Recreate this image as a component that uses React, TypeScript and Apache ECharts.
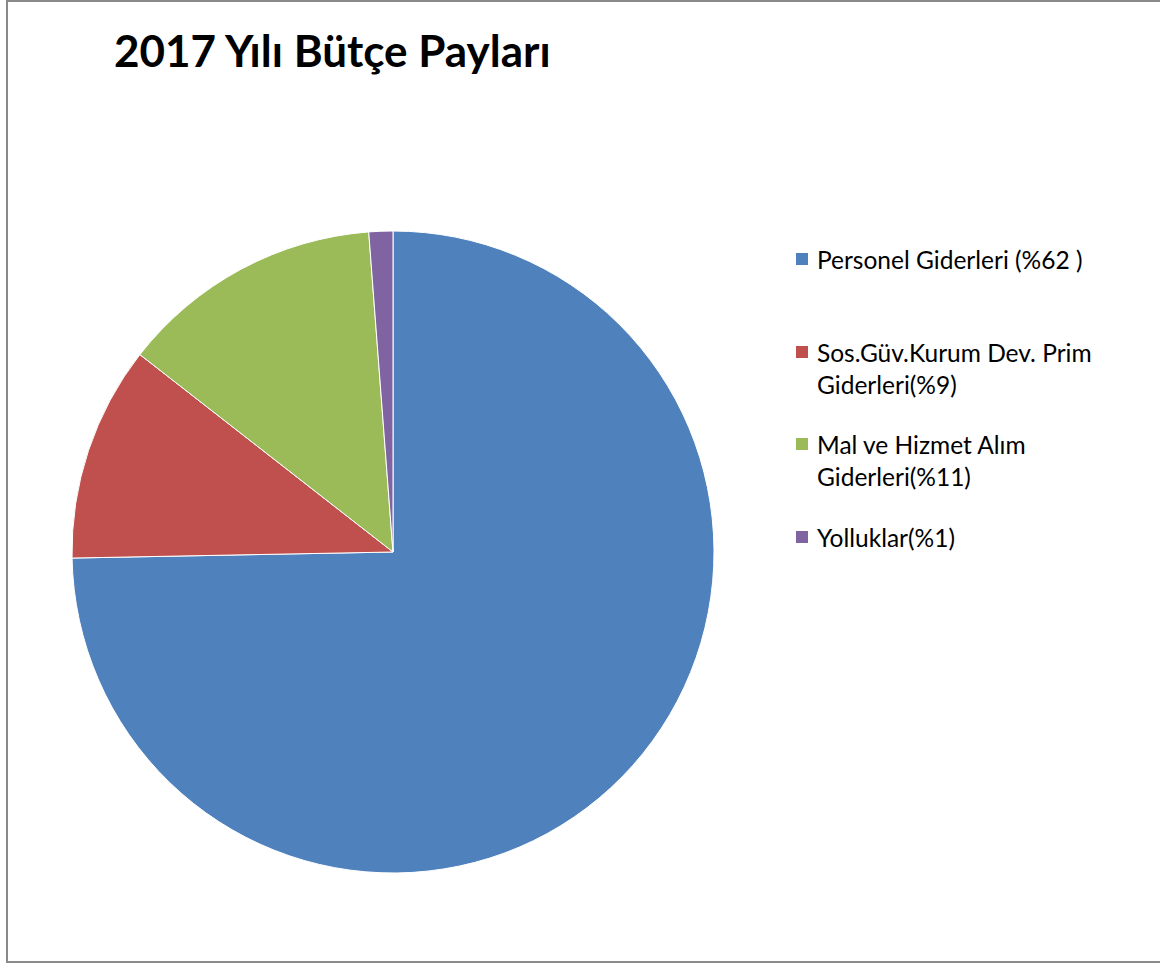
import React, { useEffect, useRef } from "react";
import * as echarts from "echarts";

const title = "2017 Yılı Bütçe Payları";
const categories = [
  "Personel Giderleri (%62 )",
  "Sos.Güv.Kurum Dev. Prim\nGiderleri(%9)",
  "Mal ve Hizmet Alım\nGiderleri(%11)",
  "Yolluklar(%1)",
];
const values = [62, 9, 11, 1];
const colors = ["#4F81BD", "#C0504D", "#9BBB59", "#8064A2"];
const legendTops = [243, 304, 396, 521];

export default function App() {
  const ref = useRef<HTMLDivElement>(null);
  useEffect(() => {
    if (!ref.current) return;
    const chart = echarts.init(ref.current, undefined, { renderer: "svg" });
    const font = "Lato, 'Open Sans', sans-serif";
    chart.setOption({
      animation: false,
      backgroundColor: "#ffffff",
      color: colors,
      title: {
        text: title,
        left: 109,
        top: 23,
        textStyle: { fontFamily: font, fontWeight: "bold", fontSize: 44, color: "#000" },
      },
      legend: categories.map((name, i) => ({
        orient: "vertical",
        left: 796,
        top: legendTops[i],
        padding: 0,
        data: [name],
        icon: "rect",
        itemWidth: 12,
        itemHeight: 12,
        itemStyle: { borderWidth: 0 },
        selectedMode: false,
        formatter: (n: string) => (n.includes("\n") ? "\n" + n : n),
        textStyle: {
          fontFamily: font,
          fontSize: 24.5,
          color: "#000",
          lineHeight: 32,
          padding: [0, 0, 0, 4],
        },
      })),
      graphic: [
        {
          type: "rect",
          shape: { x: 7, y: 1, width: 1160, height: 961 },
          style: { fill: "none", stroke: "#8a8a8a", lineWidth: 2 },
          silent: true,
        },
      ],
      series: [
        {
          type: "pie",
          center: [393, 552],
          radius: 321,
          startAngle: 90,
          clockwise: true,
          label: { show: false },
          labelLine: { show: false },
          itemStyle: { borderColor: "#ffffff", borderWidth: 1 },
          emphasis: { disabled: true },
          data: categories.map((name, i) => ({ name, value: values[i] })),
        },
      ],
    });
    return () => chart.dispose();
  }, []);
  return (
    <div
      ref={ref}
      style={{ position: "absolute", left: 0, top: 0, width: 1160, height: 965 }}
    />
  );
}
